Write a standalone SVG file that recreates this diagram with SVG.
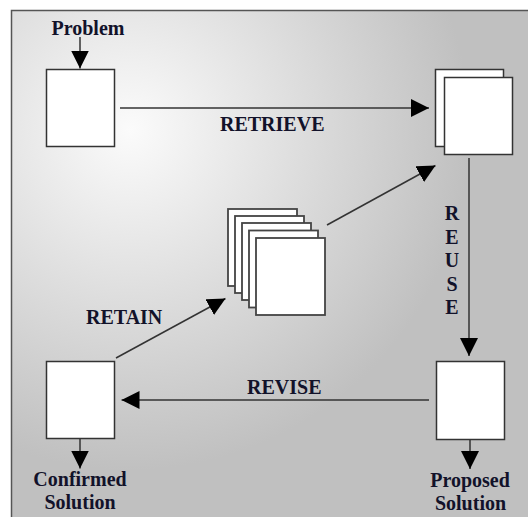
<svg xmlns="http://www.w3.org/2000/svg" width="528" height="517" viewBox="0 0 528 517">
  <defs>
    <radialGradient id="bg" gradientUnits="userSpaceOnUse" cx="130" cy="130" r="340">
      <stop offset="0" stop-color="#fbfbfb"/>
      <stop offset="1" stop-color="#c0c0c0"/>
    </radialGradient>
    <marker id="ah" markerUnits="userSpaceOnUse" markerWidth="18" markerHeight="18" refX="17" refY="8.5" orient="auto" viewBox="0 0 17 17">
      <path d="M0,0 L17,8.5 L0,17 z" fill="#000"/>
    </marker>
  </defs>
  <style>
    .box { fill: #ffffff; stroke: #333333; stroke-width: 1.5; }
    .doc { fill: #ffffff; stroke: #444444; stroke-width: 1.8; }
    .conn { stroke: #333333; stroke-width: 1.5; fill: none; marker-end: url(#ah); }
    text { font-family: 'Liberation Serif', 'DejaVu Serif', serif; font-weight: bold; font-size: 20px; fill: #12122a; }
    .mid { text-anchor: middle; }
  </style>
  <rect x="0" y="0" width="528" height="517" fill="#ffffff"/>
  <rect x="11.5" y="10.5" width="530" height="520" fill="url(#bg)" stroke="#555555" stroke-width="1.5"/>

  <g id="connectors">
    <line class="conn" x1="80" y1="37" x2="80" y2="68.5"/>
    <line class="conn" x1="120" y1="108" x2="429" y2="108"/>
    <line class="conn" x1="469" y1="158" x2="469" y2="356"/>
    <line class="conn" x1="470" y1="439" x2="470" y2="469"/>
    <line class="conn" x1="429" y1="400" x2="121.5" y2="400"/>
    <line class="conn" x1="80" y1="438" x2="80" y2="468.5"/>
    <line class="conn" x1="116" y1="358" x2="225.5" y2="298.5"/>
    <line class="conn" x1="327" y1="225" x2="435.5" y2="165.5"/>
  </g>

  <g id="problem">
    <text class="mid" x="88" y="35" font-family="Liberation Serif, serif">Problem</text>
    <rect class="box" x="46.5" y="69.5" width="68" height="77"/>
  </g>

  <g id="retrieved">
    <rect class="box" x="435.5" y="69.5" width="68" height="77"/>
    <rect class="box" x="444.5" y="77.5" width="68" height="77"/>
  </g>

  <g id="case-base">
    <rect class="doc" x="228" y="209" width="69" height="77"/>
    <rect class="doc" x="235" y="216" width="69" height="77"/>
    <rect class="doc" x="242" y="223" width="69" height="77"/>
    <rect class="doc" x="249" y="230.5" width="69" height="77"/>
    <rect class="doc" x="256" y="238" width="69" height="77"/>
  </g>

  <g id="proposed">
    <rect class="box" x="436.5" y="361.5" width="68" height="78"/>
    <text class="mid" x="470" y="487">Proposed</text>
    <text class="mid" x="470.5" y="510">Solution</text>
  </g>

  <g id="confirmed">
    <rect class="box" x="46.5" y="361.5" width="68" height="77"/>
    <text class="mid" x="80" y="486">Confirmed</text>
    <text class="mid" x="80" y="509">Solution</text>
  </g>

  <g id="labels">
    <text x="220" y="131">RETRIEVE</text>
    <text class="mid" x="452" y="220">R</text>
    <text class="mid" x="452" y="243.5">E</text>
    <text class="mid" x="452" y="267">U</text>
    <text class="mid" x="452" y="290.5">S</text>
    <text class="mid" x="452" y="313.5">E</text>
    <text x="86" y="324">RETAIN</text>
    <text x="247" y="394">REVISE</text>
  </g>
</svg>
